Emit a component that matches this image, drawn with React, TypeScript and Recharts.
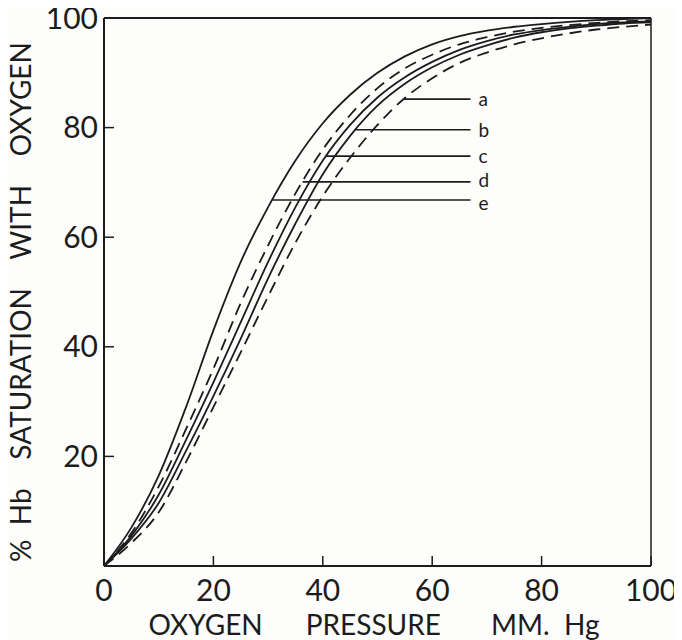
import React from "react";
import { LineChart, Line, XAxis, YAxis, ReferenceLine, Label } from "recharts";

// oxygen pressure, mm Hg
const pressure = [0, 5, 10, 15, 20, 25, 30, 35, 40, 45, 50, 55, 60, 65, 70, 75, 80, 85, 90, 95, 100];

// % saturation (a = rightmost ... e = leftmost)
const curveA = [0, 4.2, 9.8, 19, 29, 39, 49.2, 59, 67.5, 74.5, 80.5, 85.4, 89, 91.8, 93.7, 95.2, 96.3, 97.2, 97.9, 98.4, 98.8];
const curveB = [0, 5, 11.5, 21, 31, 41.5, 52.5, 62.5, 71.5, 78.5, 84, 88, 91, 93.3, 95, 96.4, 97.4, 98.1, 98.6, 99, 99.2];
const curveC = [0, 5.5, 13, 23, 33.5, 44.5, 55.5, 65.5, 74, 80.5, 85.5, 89.2, 92, 94.2, 95.8, 97, 97.8, 98.4, 98.9, 99.2, 99.4];
const curveD = [0, 6, 14.5, 25, 36, 48, 58.5, 68, 76, 82.3, 87.2, 90.8, 93.3, 95.2, 96.5, 97.5, 98.2, 98.7, 99.1, 99.4, 99.6];
const curveE = [0, 7, 16.5, 29, 43, 55.5, 65.5, 74, 80.8, 86, 90, 93, 95.2, 96.7, 97.7, 98.4, 98.9, 99.3, 99.6, 99.8, 100];

const xTicks = [0, 20, 40, 60, 80, 100];
const yTicks = [20, 40, 60, 80, 100];

// curve tags with their leader lines
const tagNames = ["a", "b", "c", "d", "e"];
const tagLevels = [85.2, 79.6, 74.8, 70.1, 66.8];
const tagEnd = 67;

const series = [
  { key: "a", values: curveA, dashed: true },
  { key: "b", values: curveB, dashed: false },
  { key: "c", values: curveC, dashed: false },
  { key: "d", values: curveD, dashed: true },
  { key: "e", values: curveE, dashed: false },
];

const data = pressure.map((p, i) => {
  const row: Record<string, number> = { p };
  series.forEach((s) => (row[s.key] = s.values[i]));
  return row;
});

// where a curve reaches a given saturation (linear between read points)
const crossAt = (values: number[], level: number) => {
  for (let i = 1; i < values.length; i++) {
    if (values[i] >= level) {
      const t = (level - values[i - 1]) / (values[i] - values[i - 1]);
      return pressure[i - 1] + t * (pressure[i] - pressure[i - 1]);
    }
  }
  return pressure[pressure.length - 1];
};

const ink = "#1c1c1c";
const font = "Lato, 'DejaVu Sans', sans-serif";

const YTitle = () => (
  <text
    x={20}
    y={302}
    transform="rotate(-90 20 302)"
    textAnchor="middle"
    dominantBaseline="central"
    fill={ink}
    fontFamily={font}
    fontSize={28}
    style={{ whiteSpace: "pre" }}
  >
    {"%  Hb    SATURATION    WITH    OXYGEN"}
  </text>
);

const XTitle = () => (
  <text
    x={374}
    y={624}
    textAnchor="middle"
    dominantBaseline="central"
    fill={ink}
    fontFamily={font}
    fontSize={28}
    style={{ whiteSpace: "pre" }}
  >
    {"OXYGEN      PRESSURE       MM.  Hg"}
  </text>
);

// the d and e letters sit a touch apart, as in the print
const tagNudge = [0, 0, 0, -2, 3];

export default function App() {
  return (
    <div style={{ position: "relative", left: -8, top: -8, background: "#fdfdfb", width: 682, height: 640 }}>
      <LineChart width={682} height={640} data={data} margin={{ top: 18, right: 31, left: 0, bottom: 0 }}>
        <XAxis
          dataKey="p"
          type="number"
          domain={[0, 100]}
          ticks={xTicks}
          height={74}
          tickSize={-10}
          tickMargin={24}
          axisLine={{ stroke: ink, strokeWidth: 2 }}
          tickLine={{ stroke: ink, strokeWidth: 1.5 }}
          tick={{ fill: ink, fontSize: 30, fontFamily: font }}
        >
          <Label content={<XTitle />} />
        </XAxis>
        <YAxis
          type="number"
          domain={[0, 100]}
          ticks={yTicks}
          width={104}
          tickSize={-10}
          tickMargin={16}
          axisLine={{ stroke: ink, strokeWidth: 2 }}
          tickLine={{ stroke: ink, strokeWidth: 1.5 }}
          tick={{ fill: ink, fontSize: 30, fontFamily: font }}
        >
          <Label content={<YTitle />} />
        </YAxis>
        <ReferenceLine y={100} stroke={ink} strokeWidth={2} />
        <ReferenceLine x={100} stroke={ink} strokeWidth={1.5} />
        {tagNames.map((name, i) => {
          const s = series.find((q) => q.key === name)!;
          return (
            <ReferenceLine
              key={name}
              segment={[
                { x: crossAt(s.values, tagLevels[i]), y: tagLevels[i] },
                { x: tagEnd, y: tagLevels[i] },
              ]}
              stroke={ink}
              strokeWidth={1.6}
              label={{ value: name, position: "right", offset: 8, dy: tagNudge[i], fill: ink, fontSize: 19, fontFamily: font }}
            />
          );
        })}
        {series.map((s) => (
          <Line
            key={s.key}
            dataKey={s.key}
            type="monotone"
            stroke={ink}
            strokeWidth={1.8}
            strokeDasharray={s.dashed ? "12 7" : undefined}
            dot={false}
            activeDot={false}
            isAnimationActive={false}
          />
        ))}
      </LineChart>
    </div>
  );
}
